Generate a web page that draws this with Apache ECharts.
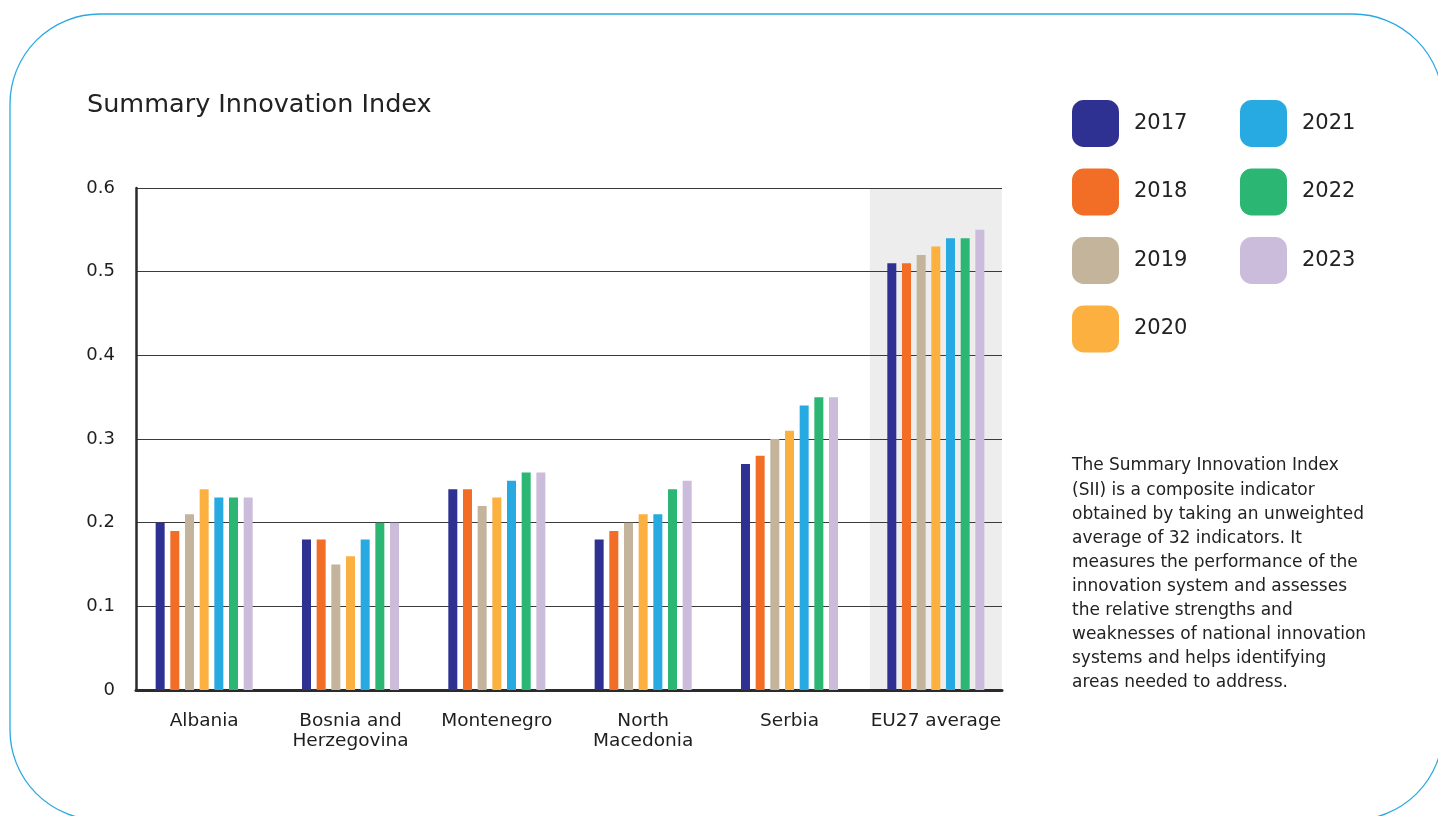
<!DOCTYPE html>
<html>
<head>
<meta charset="utf-8">
<script src="https://cdn.jsdelivr.net/npm/echarts@6/dist/echarts.min.js"></script>
<style>
html,body{margin:0;padding:0;background:#fff;}
#c{width:1438px;height:816px;}
</style>
</head>
<body>
<div id="c"></div>
<script>
const categories = ['Albania', 'Bosnia and\nHerzegovina', 'Montenegro', 'North\nMacedonia', 'Serbia', 'EU27 average'];
const years = ['2017', '2018', '2019', '2020', '2021', '2022', '2023'];
const colors = ['#2e3192', '#f26d26', '#c4b49b', '#fbb040', '#27aae1', '#2bb673', '#cbbcdc'];
const v2017 = [0.20, 0.18, 0.24, 0.18, 0.27, 0.51];
const v2018 = [0.19, 0.18, 0.24, 0.19, 0.28, 0.51];
const v2019 = [0.21, 0.15, 0.22, 0.20, 0.30, 0.52];
const v2020 = [0.24, 0.16, 0.23, 0.21, 0.31, 0.53];
const v2021 = [0.23, 0.18, 0.25, 0.21, 0.34, 0.54];
const v2022 = [0.23, 0.20, 0.26, 0.24, 0.35, 0.54];
const v2023 = [0.23, 0.20, 0.26, 0.25, 0.35, 0.55];
const highlight = [null, null, null, null, null, 0.6];
const yTicks = { min: 0, max: 0.6, interval: 0.1 };
const note = [
  'The Summary Innovation Index',
  '(SII) is a composite indicator',
  'obtained by taking an unweighted',
  'average of 32 indicators. It',
  'measures the performance of the',
  'innovation system and assesses',
  'the relative strengths and',
  'weaknesses of national innovation',
  'systems and helps identifying',
  'areas needed to address.'
];
const seriesValues = [v2017, v2018, v2019, v2020, v2021, v2022, v2023];

const FONT = "'DejaVu Sans', 'Noto Sans', sans-serif";
const chart = echarts.init(document.getElementById('c'));

const barSeries = years.map((y, i) => ({
  name: y,
  type: 'bar',
  xAxisIndex: 1,
  yAxisIndex: 1,
  data: seriesValues[i],
  barWidth: 9,
  barGap: '63%',
  itemStyle: { color: colors[i] },
  z: 3
}));

const legendCommon = {
  orient: 'vertical',
  top: 100,
  padding: 0,
  itemWidth: 47,
  itemHeight: 47,
  itemGap: 21.5,
  icon: 'roundRect',
  selectedMode: false,
  textStyle: { fontSize: 21, color: '#222', fontFamily: FONT, padding: [0, 0, 0, 10] }
};

chart.setOption({
  animation: false,
  color: colors,
  textStyle: { fontFamily: FONT },
  title: {
    text: 'Summary Innovation Index',
    left: 82,
    top: 87,
    textStyle: { fontSize: 25.5, fontWeight: 'normal', color: '#222', fontFamily: FONT }
  },
  legend: [
    Object.assign({}, legendCommon, { left: 1072, data: years.slice(0, 4) }),
    Object.assign({}, legendCommon, { left: 1240, data: years.slice(4) })
  ],
  grid: [
    { left: 136, top: 188, width: 866, height: 502 },
    { left: 131, top: 188, width: 878, height: 502 }
  ],
  xAxis: [
    {
      type: 'category', gridIndex: 0, data: categories,
      axisLine: { show: true, lineStyle: { color: '#2b2b2b', width: 3 } },
      axisTick: { show: false }, axisLabel: { show: false }, splitLine: { show: false }
    },
    {
      type: 'category', gridIndex: 1, data: categories,
      axisLine: { show: false }, axisTick: { show: false },
      axisLabel: { show: true, color: '#1e1e1e', fontSize: 18.5, lineHeight: 20, margin: 21, fontFamily: FONT, interval: 0 }
    },
    {
      type: 'category', gridIndex: 1, data: categories, show: false
    }
  ],
  yAxis: [
    {
      type: 'value', gridIndex: 0, min: yTicks.min, max: yTicks.max, interval: yTicks.interval,
      axisLine: { show: true, lineStyle: { color: '#2b2b2b', width: 2.5 } },
      axisTick: { show: false },
      axisLabel: { color: '#1e1e1e', fontSize: 18, margin: 21, fontFamily: FONT, formatter: v => String(Math.round(v * 10) / 10) },
      splitLine: { show: true, lineStyle: { color: '#3a3a3a', width: 1 } }
    },
    {
      type: 'value', gridIndex: 1, min: yTicks.min, max: yTicks.max, interval: yTicks.interval, show: false,
      splitLine: { show: false }
    }
  ],
  graphic: [
    {
      type: 'rect', z: -10, silent: true,
      shape: { x: 10, y: 14, width: 1433, height: 806, r: 90 },
      style: { fill: 'none', stroke: '#29a9e1', lineWidth: 1.3 }
    },
    {
      type: 'text', left: 1072, top: 454, silent: true,
      style: { text: note.join('\n'), fontSize: 17, lineHeight: 24.1, fill: '#222', fontFamily: FONT }
    }
  ],
  series: [
    {
      name: 'bg', type: 'bar', xAxisIndex: 2, yAxisIndex: 1, data: highlight,
      barWidth: 132, itemStyle: { color: '#ededed' }, z: -1, silent: true
    }
  ].concat(barSeries)
});
</script>
</body>
</html>
